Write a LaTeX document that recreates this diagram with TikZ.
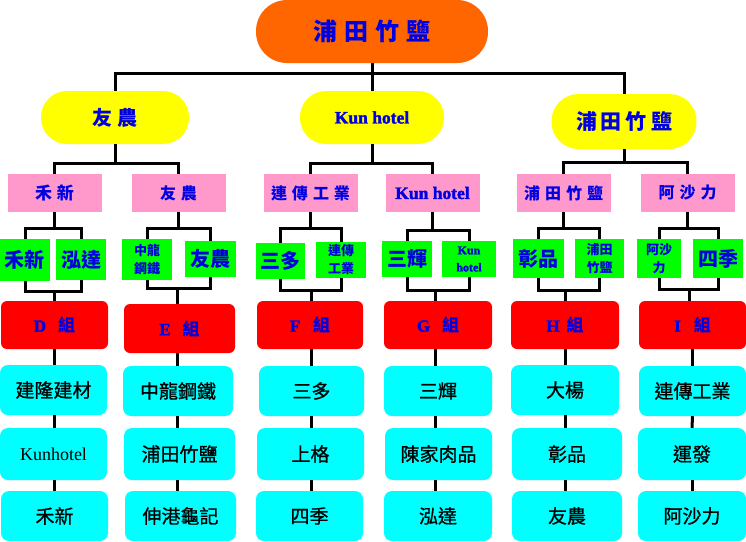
\documentclass[tikz,border=0pt]{standalone}
\usepackage{fontspec}
\setmainfont{Liberation Serif}
\newfontfamily\cjk{Noto Sans CJK TC}
\newfontfamily\cjkm[FakeBold=0.8]{Noto Sans CJK TC}
\newfontfamily\heavy[BoldFeatures={FakeBold=2}]{Liberation Serif}
\definecolor{cOrange}{RGB}{255,102,0}
\definecolor{cYellow}{RGB}{255,255,0}
\definecolor{cPink}{RGB}{255,153,204}
\definecolor{cGreen}{RGB}{0,255,0}
\definecolor{cRed}{RGB}{255,0,0}
\definecolor{cCyan}{RGB}{0,255,255}
\definecolor{tBlue}{RGB}{0,0,225}
\newcommand\kg[1][5pt]{\hspace{#1}}
\tikzset{
  base/.style={inner sep=0pt, align=center},
  rootbox/.style={base, fill=cOrange, rounded corners=31pt, minimum width=232pt, minimum height=63pt, text=tBlue, font=\cjk\bfseries\fontsize{24}{28}\selectfont},
  yelbox/.style={base, fill=cYellow, minimum height=53pt, rounded corners=26pt, text=tBlue},
  pinkbox/.style={base, fill=cPink, minimum width=94pt, minimum height=38pt, text=tBlue, font=\cjk\bfseries\fontsize{16}{19}\selectfont},
  grnbox/.style={base, fill=cGreen, text=tBlue, font=\cjk\bfseries\fontsize{20}{22}\selectfont},
  grnsmall/.style={grnbox, font=\cjk\bfseries\fontsize{13}{18}\selectfont},
  redbox/.style={base, fill=cRed, rounded corners=6pt, minimum height=48pt, text=tBlue, font=\heavy\bfseries\fontsize{17}{20}\selectfont},
  cyanbox/.style={base, fill=cCyan, rounded corners=8pt, text=black, font=\cjkm\fontsize{19}{22}\selectfont},
  conn/.style={draw=black, line width=3pt},
}
\begin{document}
\begin{tikzpicture}[x=1pt,y=-1pt]
\fill[white] (0,0) rectangle (746,541);
\useasboundingbox (0,0) rectangle (746,541);

% level 0
\node[rootbox] (root) at (372,31.5) {浦\kg[7pt]田\kg[7pt]竹\kg[7pt]鹽};

% level 1
\node[yelbox, minimum width=148pt, font=\cjk\bfseries\fontsize{20}{22}\selectfont] (Y1) at (115,117.5) {友\kg{}農};
\node[yelbox, minimum width=144pt, font=\heavy\bfseries\fontsize{17.5}{20}\selectfont] (Y2) at (372,117.5) {Kun hotel};
\node[yelbox, minimum width=145pt, minimum height=55pt, rounded corners=27pt, font=\cjk\bfseries\fontsize{21}{23}\selectfont] (Y3) at (624,121.5) {浦\kg[4pt]田\kg[4pt]竹\kg[4pt]鹽};

% level 2
\node[pinkbox, font=\cjk\bfseries\fontsize{17}{19}\selectfont] (P1) at (54.5,193) {禾\kg{}新};
\node[pinkbox] (P2) at (178.5,193) {友\kg{}農};
\node[pinkbox] (P3) at (310.5,193) {連\kg{}傳\kg{}工\kg{}業};
\node[pinkbox, font=\heavy\bfseries\fontsize{17.5}{20}\selectfont] (P4) at (432.5,193) {Kun hotel};
\node[pinkbox] (P5) at (563.5,193) {浦\kg{}田\kg{}竹\kg{}鹽};
\node[pinkbox] (P6) at (687.5,193) {阿\kg{}沙\kg{}力};

% level 3
\node[grnbox, minimum width=50pt, minimum height=42pt] (G1) at (25,260) {禾新};
\node[grnbox, minimum width=50pt, minimum height=41pt] (G2) at (81,259.5) {泓達};
\node[grnsmall, minimum width=50pt, minimum height=41pt] (G3) at (147,259.5) {中龍\\鋼鐵};
\node[grnbox, minimum width=51pt, minimum height=36pt] (G4) at (210.5,259) {友農};
\node[grnbox, minimum width=49pt, minimum height=36pt] (G5) at (280.5,261) {三多};
\node[grnsmall, minimum width=50pt, minimum height=36pt] (G6) at (341,260) {連傳\\工業};
\node[grnbox, minimum width=50pt, minimum height=36pt] (G7) at (407,259) {三輝};
\node[grnsmall, minimum width=54pt, minimum height=36pt, font=\heavy\bfseries\fontsize{12}{17}\selectfont] (G8) at (469,259) {Kun\\hotel};
\node[grnbox, minimum width=51pt, minimum height=39pt] (G9) at (538.5,258.5) {彰品};
\node[grnsmall, minimum width=49pt, minimum height=39pt] (G10) at (599.5,258.5) {浦田\\竹鹽};
\node[grnsmall, minimum width=44pt, minimum height=39pt] (G11) at (659,258.5) {阿沙\\力};
\node[grnbox, minimum width=50pt, minimum height=39pt] (G12) at (718,258.5) {四季};

% level 4
\node[redbox, minimum width=107pt] (R1) at (54.5,325) {D\kg[12pt]{\cjk 組}};
\node[redbox, minimum width=111pt, minimum height=49pt] (R2) at (179.5,328.5) {E\kg[12pt]{\cjk 組}};
\node[redbox, minimum width=106pt] (R3) at (310,325) {F\kg[13pt]{\cjk 組}};
\node[redbox, minimum width=108pt] (R4) at (438,325) {G\kg[12pt]{\cjk 組}};
\node[redbox, minimum width=108pt] (R5) at (565,325) {H\kg[7pt]{\cjk 組}};
\node[redbox, minimum width=107pt] (R6) at (692.5,325) {I\kg[13pt]{\cjk 組}};

% cyan rows
\node[cyanbox, minimum width=107pt, minimum height=50pt] (C1a) at (53.5,390) {建隆建材};
\node[cyanbox, minimum width=107pt, minimum height=52pt, font=\rmfamily\fontsize{18}{20}\selectfont] (C1b) at (53.5,454) {Kunhotel};
\node[cyanbox, minimum width=107pt, minimum height=50pt] (C1c) at (54.5,516) {禾新};

\node[cyanbox, minimum width=110pt, minimum height=50pt] (C2a) at (178,391) {中龍鋼鐵};
\node[cyanbox, minimum width=111pt, minimum height=52pt] (C2b) at (179.5,454) {浦田竹鹽};
\node[cyanbox, minimum width=111pt, minimum height=50pt] (C2c) at (180.5,516) {伸港龜記};

\node[cyanbox, minimum width=105pt, minimum height=50pt] (C3a) at (311.5,391) {三多};
\node[cyanbox, minimum width=107pt, minimum height=52pt] (C3b) at (310.5,454) {上格};
\node[cyanbox, minimum width=107pt, minimum height=50pt] (C3c) at (309.5,516) {四季};

\node[cyanbox, minimum width=108pt, minimum height=50pt] (C4a) at (438,391) {三輝};
\node[cyanbox, minimum width=107pt, minimum height=52pt] (C4b) at (438.5,454) {陳家肉品};
\node[cyanbox, minimum width=108pt, minimum height=50pt] (C4c) at (438,516) {泓達};

\node[cyanbox, minimum width=108pt, minimum height=50pt] (C5a) at (565,390) {大楊};
\node[cyanbox, minimum width=110pt, minimum height=52pt] (C5b) at (567,454) {彰品};
\node[cyanbox, minimum width=110pt, minimum height=50pt] (C5c) at (567,516) {友農};

\node[cyanbox, minimum width=107pt, minimum height=50pt] (C6a) at (692.5,391) {連傳工業};
\node[cyanbox, minimum width=108pt, minimum height=52pt] (C6b) at (692,454) {運發};
\node[cyanbox, minimum width=108pt, minimum height=50pt] (C6c) at (692,516) {阿沙力};

% connectors level 0-1
\coordinate (t0) at (372,73);
\draw[conn] (root.south) -- (Y2.north);
\draw[conn] (Y1.north) |- (t0) -| (Y3.north);

% level 1-2
\coordinate (t1) at (115,163);
\coordinate (t2) at (372,163);
\coordinate (t3) at (624,162);
\draw[conn] (Y1.south) -- (t1);
\draw[conn] (P1.north) |- (t1) -| (P2.north);
\draw[conn] (Y2.south) -- (t2);
\draw[conn] (P3.north) |- (t2) -| (P4.north);
\draw[conn] (Y3.south) -- (t3);
\draw[conn] (P5.north) |- (t3) -| (P6.north);

% level 2-3
\coordinate (u1) at (54.5,228);
\coordinate (u2) at (178.5,228);
\coordinate (u3) at (310.5,228);
\coordinate (u4) at (432.5,230);
\coordinate (u5) at (563.5,228);
\coordinate (u6) at (687.5,228);
\draw[conn] (P1.south) -- (u1);
\draw[conn] (G1.north) |- (u1) -| (G2.north);
\draw[conn] (P2.south) -- (u2);
\draw[conn] (G3.north) |- (u2) -| (G4.north);
\draw[conn] (P3.south) -- (u3);
\draw[conn] (G5.north) |- (u3) -| (G6.north);
\draw[conn] (P4.south) -- (u4);
\draw[conn] (G7.north) |- (u4) -| (G8.north);
\draw[conn] (P5.south) -- (u5);
\draw[conn] (G9.north) |- (u5) -| (G10.north);
\draw[conn] (P6.south) -- (u6);
\draw[conn] (G11.north) |- (u6) -| (G12.north);

% level 3-4
\coordinate (v1) at (54,291);
\coordinate (v2) at (177,288);
\coordinate (v3) at (311,290);
\coordinate (v4) at (435,290);
\coordinate (v5) at (565,290);
\coordinate (v6) at (689,289);
\draw[conn] (G1.south) |- (v1) -| (G2.south);
\draw[conn] (v1) -- (v1 |- R1.north);
\draw[conn] (G3.south) |- (v2) -| (G4.south);
\draw[conn] (v2) -- (v2 |- R2.north);
\draw[conn] (G5.south) |- (v3) -| (G6.south);
\draw[conn] (v3) -- (v3 |- R3.north);
\draw[conn] (G7.south) |- (v4) -| (G8.south);
\draw[conn] (v4) -- (v4 |- R4.north);
\draw[conn] (G9.south) |- (v5) -| (G10.south);
\draw[conn] (v5) -- (v5 |- R5.north);
\draw[conn] (G11.south) |- (v6) -| (G12.south);
\draw[conn] (v6) -- (v6 |- R6.north);

% columns
\draw[conn] (v1 |- R1.south) -- (v1 |- C1a.north);
\draw[conn] (v1 |- C1a.south) -- (v1 |- C1b.north);
\draw[conn] (v1 |- C1b.south) -- (v1 |- C1c.north);
\draw[conn] (v2 |- R2.south) -- (v2 |- C2a.north);
\draw[conn] (v2 |- C2a.south) -- (v2 |- C2b.north);
\draw[conn] (v2 |- C2b.south) -- (v2 |- C2c.north);
\draw[conn] (v3 |- R3.south) -- (v3 |- C3a.north);
\draw[conn] (v3 |- C3a.south) -- (v3 |- C3b.north);
\draw[conn] (v3 |- C3b.south) -- (v3 |- C3c.north);
\draw[conn] (v4 |- R4.south) -- (v4 |- C4a.north);
\draw[conn] (v4 |- C4a.south) -- (v4 |- C4b.north);
\draw[conn] (v4 |- C4b.south) -- (v4 |- C4c.north);
\draw[conn] (v5 |- R5.south) -- (v5 |- C5a.north);
\draw[conn] (v5 |- C5a.south) -- (v5 |- C5b.north);
\draw[conn] (v5 |- C5b.south) -- (v5 |- C5c.north);
\draw[conn] (R6.south) -- (R6.south |- C6a.north);
\draw[conn] (C6a.south) -- (C6b.north);
\draw[conn] (C6b.south) -- (C6c.north);
\end{tikzpicture}
\end{document}
